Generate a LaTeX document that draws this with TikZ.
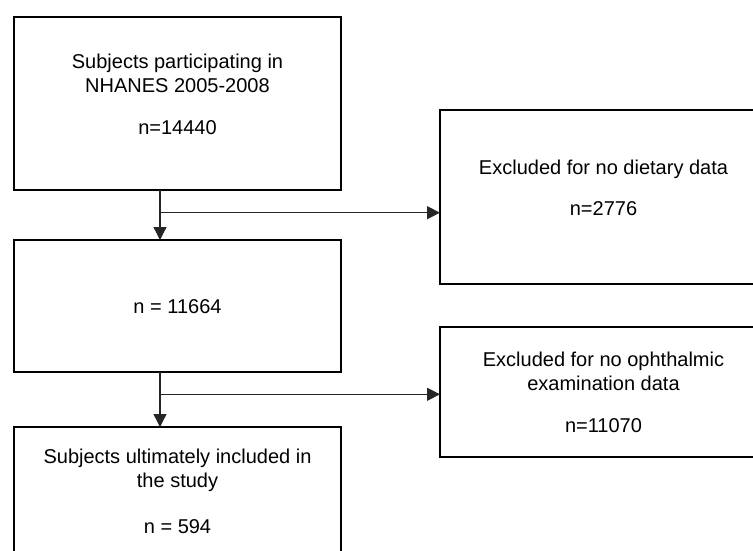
\documentclass[tikz,border=0pt]{standalone}
\usepackage{fontspec}
\setmainfont{Liberation Sans}
\usetikzlibrary{arrows.meta}
\begin{document}
\begin{tikzpicture}[x=1pt,y=-1pt,
  box/.style={draw=black, line width=2.2pt, minimum width=327pt, inner sep=0pt, outer sep=0pt, anchor=north west},
  txt/.style={align=center, font=\fontsize{20pt}{24pt}\selectfont, anchor=base, inner sep=0pt},
  conn/.style={draw=black!85, line width=1.3pt, -{Triangle[length=13pt,width=13pt]}}]
\clip (0,0) rectangle (753,550);
\fill[white] (0,0) rectangle (753,550);
% boxes
\node[box, minimum height=173.3pt] (b1) at (14,16.7) {};
\node[box, minimum height=174pt] (b2) at (440,110) {};
\node[box, minimum height=132pt] (b3) at (14,240) {};
\node[box, minimum height=130pt] (b4) at (440,327) {};
\node[box, minimum height=173pt] (b5) at (14,427) {};
% texts (anchored at the baseline of the last line)
\node[txt] (t1) at (177.5,134.3) {Subjects participating in\\NHANES 2005-2008\\[17.6pt]n=14440};
\node[txt] (t2) at (603.5,215.7) {Excluded for no dietary data\\[17.7pt]n=2776};
\node[txt] (t3) at (177.5,313.3) {n = 11664};
\node[txt] (t4) at (603.5,432.7) {Excluded for no ophthalmic\\examination data\\[18.7pt]n=11070};
\node[txt] (t5) at (177.5,533.3) {Subjects ultimately included in\\the study\\[22pt]n = 594};
% connectors
\coordinate (j1) at (160,212.7);
\coordinate (j2) at (160,394.3);
\draw[conn] (b1.south -| j1) -- (b3.north -| j1);
\draw[conn] (j1) -- (j1 -| b2.west);
\draw[conn] (b3.south -| j2) -- (b5.north -| j2);
\draw[conn] (j2) -- (j2 -| b4.west);
\end{tikzpicture}
\end{document}
